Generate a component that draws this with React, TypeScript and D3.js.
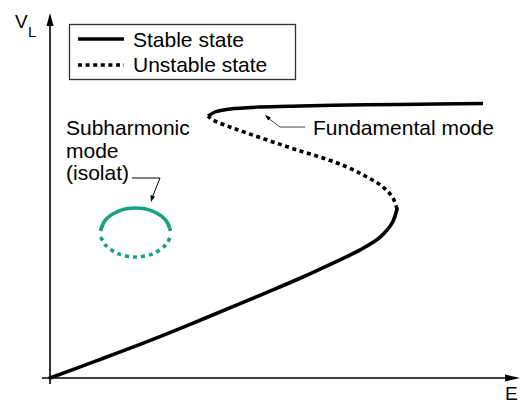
import React from "react";
import * as d3 from "d3";

// Data in chart units (E on x: 0..100, V_L on y: 0..100)
const lowerStable: [number, number][] = [
  [0, 0], [10, 4.7], [20, 9.5], [30, 14.6], [40, 19.9], [47, 23.6], [54, 27.4],
  [61, 31.5], [67, 35.2], [71.3, 38.7], [73.9, 42.6], [74.95, 46.43],
];
const middleUnstable: [number, number][] = [
  [74.95, 46.43], [74.08, 49.45], [71.92, 52.47], [68.47, 55.22], [64.15, 57.97],
  [58.96, 60.44], [53.35, 62.64], [48.16, 64.84], [43.2, 67.0], [38.88, 68.96],
  [35.3, 70.8], [34.13, 71.98],
];
const upperStable: [number, number][] = [
  [34.13, 71.98], [35.64, 73.08], [38.88, 73.9], [45.36, 74.45], [54.0, 74.73],
  [64.79, 75.0], [75.59, 75.14], [93.52, 75.41],
];
const isolaStable: [number, number][] = [
  [10.91, 40.38], [11.92, 43.34], [14.69, 45.8], [18.47, 46.7], [22.25, 45.8],
  [25.01, 43.34], [26.03, 40.38],
];
const isolaUnstable: [number, number][] = [
  [10.97, 38.74], [11.92, 36.61], [14.69, 34.15], [18.47, 33.24], [22.25, 34.15],
  [25.01, 36.61], [25.96, 38.74],
];
const legendLabels = ["Stable state", "Unstable state"];
const subLabel = ["Subharmonic", "mode", "(isolat)"];
const fundLabel = "Fundamental mode";

const W = 528;
const H = 403;
const FONT = "'Liberation Sans', Arial, Helvetica, sans-serif";
const TEAL = "#16a185";

export default function App() {
  const x = d3.scaleLinear().domain([0, 100]).range([50, 513]);
  const y = d3.scaleLinear().domain([0, 100]).range([378, 14]);
  const line = d3
    .line<[number, number]>()
    .x((d) => x(d[0]))
    .y((d) => y(d[1]))
    .curve(d3.curveCatmullRom.alpha(0.5));

  const x0 = x(0);
  const y0 = y(0);

  return (
    <svg
      width={W}
      height={H}
      style={{ position: "absolute", left: 0, top: 0, background: "#fff" }}
      fontFamily={FONT}
    >
      <rect width={W} height={H} fill="#fff" />
      {/* axes */}
      <line x1={42} y1={y0} x2={508} y2={y0} stroke="#000" strokeWidth={1.6} />
      <path d={`M520,${y0} L505,${y0 - 3.5} L505,${y0 + 3.5} Z`} fill="#000" />
      <line x1={x0} y1={384} x2={x0} y2={22} stroke="#000" strokeWidth={1.6} />
      <path d={`M${x0},13 L${x0 - 3.5},26 L${x0 + 3.5},26 Z`} fill="#000" />
      <text x={15} y={28} fontSize={19}>V</text>
      <text x={28} y={37} fontSize={15}>L</text>
      <text x={505} y={400} fontSize={19}>E</text>

      {/* fundamental mode */}
      <path d={line(lowerStable) ?? ""} fill="none" stroke="#000" strokeWidth={3.6} strokeLinecap="round" />
      <path d={line(middleUnstable) ?? ""} fill="none" stroke="#000" strokeWidth={3.6} strokeDasharray="4,3.6" />
      <path d={line(upperStable) ?? ""} fill="none" stroke="#000" strokeWidth={3.4} />

      {/* isola */}
      <path d={line(isolaStable) ?? ""} fill="none" stroke={TEAL} strokeWidth={3.6} />
      <path d={line(isolaUnstable) ?? ""} fill="none" stroke={TEAL} strokeWidth={3.6} strokeDasharray="4,4" />

      {/* annotations */}
      <polyline points="305,127 280,127 268,118" fill="none" stroke="#444" strokeWidth={1} />
      <path d="M265,115 L271,117.5 L268,120.5 Z" fill="#000" />
      <text x={313} y={135} fontSize={21}>{fundLabel}</text>

      {subLabel.map((t, i) => (
        <text key={t} x={66} y={135 + i * 22.5} fontSize={21}>{t}</text>
      ))}
      <polyline points="132,178 160,178 152,198" fill="none" stroke="#000" strokeWidth={1} />
      <path d="M151,202 L150.5,195 L155,196.5 Z" fill="#000" />

      {/* legend */}
      <rect x={69.5} y={24.5} width={226} height={55} fill="#fff" stroke="#333" strokeWidth={1.3} />
      <line x1={78} y1={39} x2={124} y2={39} stroke="#000" strokeWidth={3.6} />
      <line x1={78} y1={65} x2={124} y2={65} stroke="#000" strokeWidth={3.6} strokeDasharray="4,3.6" />
      <text x={133} y={47} fontSize={21}>{legendLabels[0]}</text>
      <text x={133} y={72} fontSize={21}>{legendLabels[1]}</text>
    </svg>
  );
}
